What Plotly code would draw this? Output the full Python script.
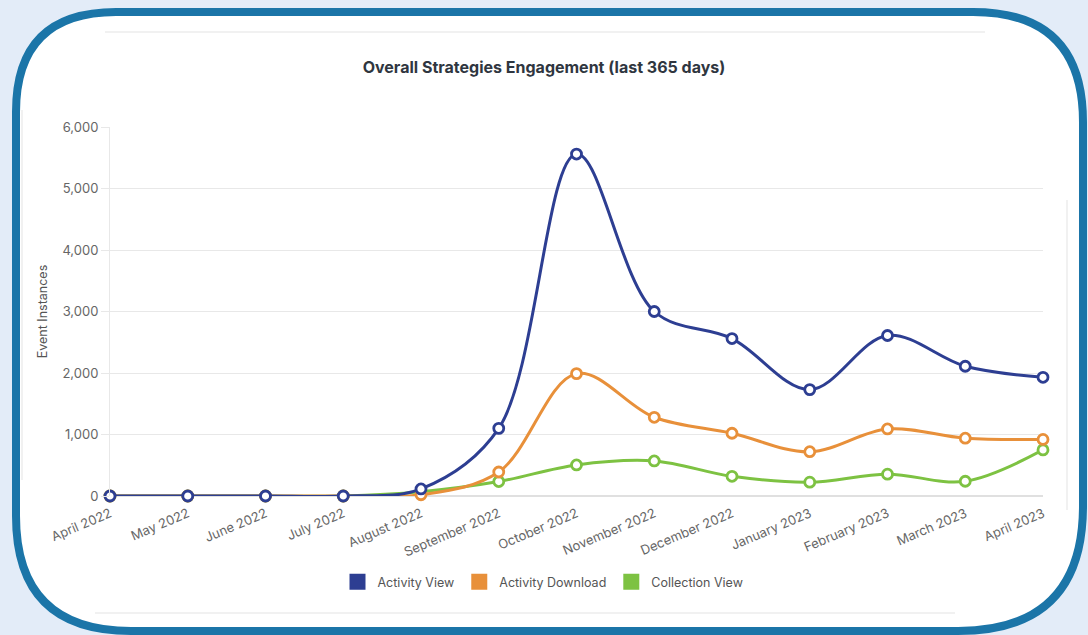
import plotly.graph_objects as go

months = ["April 2022", "May 2022", "June 2022", "July 2022", "August 2022",
          "September 2022", "October 2022", "November 2022", "December 2022",
          "January 2023", "February 2023", "March 2023", "April 2023"]
activity_view = [0, 0, 0, 0, 115, 1100, 5560, 3000, 2560, 1730, 2610, 2110, 1930]
activity_download = [0, 0, 0, 0, 20, 390, 1990, 1280, 1020, 720, 1090, 940, 920]
collection_view = [0, 0, 0, 0, 70, 235, 505, 570, 320, 225, 355, 240, 750]

series_names = ["Activity View", "Activity Download", "Collection View"]
series_values = [activity_view, activity_download, collection_view]
colors = ["#2D3E92", "#E8903A", "#7DC242"]

W, H = 1088, 635
L, R, T, B = 110, 45, 127, 139
PW, PH = W - L - R, H - T - B
BG = "#E3ECF8"


def px(x):
    return (x - L) / PW


def py(y):
    return (H - B - y) / PH


fig = go.Figure()
# draw in reverse order so Activity View lies on top
for name, vals, col in reversed(list(zip(series_names, series_values, colors))):
    fig.add_trace(go.Scatter(
        x=months, y=vals, name=name, mode="lines+markers",
        line=dict(color=col, width=3, shape="spline", smoothing=1.0),
        marker=dict(size=10, color="white", line=dict(color=col, width=2.8)),
        showlegend=False, cliponaxis=False,
    ))
for name, col in zip(series_names, colors):
    fig.add_trace(go.Scatter(
        x=[None], y=[None], name=name, mode="markers",
        marker=dict(symbol="square", size=17, color=col),
        showlegend=True,
    ))

# frame path (pixel coordinates converted to paper)
x0, y0, x1, y1 = 16, 12, 1083, 631
rtl, rtr, rbr, rbl = 100, 110, 125, 115


def P(x, y):
    return f"{px(x):.5f},{py(y):.5f}"


frame = (
    f"M {P(x0 + rtl, y0)} L {P(x1 - rtr, y0)} "
    f"Q {P(x1, y0)} {P(x1, y0 + rtr)} "
    f"L {P(x1, y1 - rbr)} Q {P(x1, y1)} {P(x1 - rbr, y1)} "
    f"L {P(x0 + rbl, y1)} Q {P(x0, y1)} {P(x0, y1 - rbl)} "
    f"L {P(x0, y0 + rtl)} Q {P(x0, y0)} {P(x0 + rtl, y0)} Z"
)
shapes = [
    dict(type="path", path=frame, xref="paper", yref="paper",
         fillcolor="white", line=dict(color="#1B75A8", width=8), layer="below"),
    dict(type="line", xref="paper", yref="paper", x0=px(105), x1=px(985), y0=py(32), y1=py(32),
         line=dict(color="#E3E3E3", width=1), layer="below"),
    dict(type="line", xref="paper", yref="paper", x0=px(95), x1=px(955), y0=py(613), y1=py(613),
         line=dict(color="#E3E3E3", width=1), layer="below"),
    dict(type="line", xref="paper", yref="paper", x0=px(22), x1=px(22), y0=py(110), y1=py(480),
         line=dict(color="#E3E3E3", width=1), layer="below"),
    dict(type="line", xref="paper", yref="paper", x0=px(1067), x1=px(1067), y0=py(200), y1=py(510),
         line=dict(color="#E3E3E3", width=1), layer="below"),
]

fig.update_layout(
    width=W, height=H,
    margin=dict(l=L, r=R, t=T, b=B, autoexpand=False),
    paper_bgcolor=BG,
    plot_bgcolor="rgba(0,0,0,0)",
    font=dict(family="Inter, Roboto, sans-serif", size=12, color="#666666"),
    title=dict(text="<b>Overall Strategies Engagement (last 365 days)</b>",
               x=0.5, xref="container", xanchor="center",
               y=1 - 67 / H, yref="container", yanchor="middle",
               font=dict(size=16, color="#2F3640")),
    shapes=shapes,
    legend=dict(orientation="h", x=px(543), xanchor="center", y=py(582), yanchor="middle",
                font=dict(size=12.5, color="#555555"), bgcolor="rgba(0,0,0,0)",
                itemwidth=30, tracegroupgap=0),
    showlegend=True,
)
fig.update_xaxes(
    type="category", range=[0, len(months) - 1], tickangle=-23,
    showgrid=False, showline=False, zeroline=False,
    tickfont=dict(size=13, color="#666666"), ticks="", ticklabelstandoff=7,
)
fig.update_yaxes(
    range=[0, 6000], dtick=1000, tickformat=",",
    showgrid=True, gridcolor="#E8E8E8", gridwidth=1,
    zeroline=True, zerolinecolor="#E0E0E0",
    showline=True, linecolor="#E8E8E8", linewidth=1,
    ticks="outside", ticklen=8, tickcolor="#E8E8E8",
    tickfont=dict(size=13, color="#666666"),
    title=dict(text="Event Instances", font=dict(size=12.5, color="#555555"), standoff=12),
)

fig.write_html(
    "out.html",
    config={"displayModeBar": False},
    post_script=(
        "document.body.style.margin='0';"
        "document.body.style.padding='0';"
        "document.body.style.background='" + BG + "';"
        "document.body.style.overflow='hidden';"
    ),
)
